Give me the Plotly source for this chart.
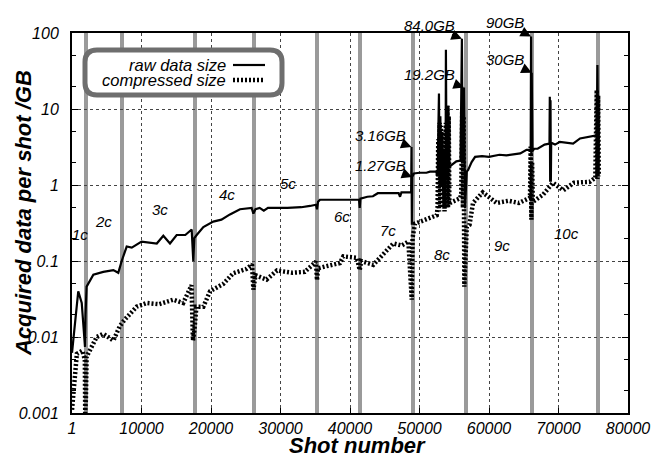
import numpy as np
import plotly.graph_objects as go

# ---------------- data ----------------
raw_shot = [1, 900, 1400, 1870, 1950, 2100, 3070, 4500, 5950, 6660, 7150, 7870, 8600, 10000,
            12200, 13140, 14100, 15060, 16300, 17220, 17450, 17600, 17940, 18900, 20330, 21500,
            22730, 24170, 25850, 26100, 26400, 27000, 27600, 28200, 31000, 33000, 34240, 35100,
            35250, 35400, 35680, 38000, 41300, 41400, 41500, 42500, 43300, 44000, 46000, 47000,
            47200, 47400, 48800, 48850, 48900, 48950, 49200, 50000, 51000, 51500, 52400,
            52600, 52800, 52900, 53000, 53100, 53300, 53400, 53600, 53750, 53800, 53900, 54000,
            54100, 54150, 54250, 54500, 54800, 55300, 55900, 56100, 56200, 56400, 56550, 56800,
            57000, 57500, 58000, 59000, 60000, 61500, 62500, 63500, 64500, 65400, 66000, 66050,
            66100, 66150, 66250, 66500, 67000, 68000, 68700, 68750, 68800, 68850, 68900, 68950,
            69500, 70200, 71000, 72100, 73100, 74500, 75300, 75500, 75600, 75700, 75800]
raw_size = [0.0062, 0.04, 0.028, 0.0074, 0.02, 0.046, 0.066, 0.072, 0.076, 0.07, 0.1, 0.155, 0.15, 0.18,
            0.17, 0.215, 0.17, 0.22, 0.22, 0.26, 0.1, 0.2, 0.22, 0.28, 0.33, 0.35,
            0.41, 0.48, 0.5, 0.42, 0.48, 0.5, 0.46, 0.5, 0.5, 0.51, 0.53, 0.55,
            0.48, 0.6, 0.64, 0.64, 0.64, 0.5, 0.66, 0.7, 0.71, 0.78, 0.78, 0.78,
            0.7, 0.8, 0.8, 3.16, 0.3, 1.27, 1.42, 1.45, 1.45, 1.5, 1.5,
            1.3, 16, 0.9, 8, 1.0, 5, 0.9, 3, 1.0, 60, 1.2, 8,
            1.4, 11, 1.7, 1.8, 1.9, 2.05, 2.1, 84, 2.0, 19.2, 0.5, 1.5,
            1.58, 2.0, 2.35, 2.4, 2.35, 2.5, 2.45, 2.55, 2.6, 2.9, 2.9, 90,
            2.5, 30, 2.8, 3.0, 3.0, 3.4, 3.5, 14.5, 1.1, 13, 1.1, 3.6,
            3.4, 3.7, 3.6, 3.5, 4.1, 4.3, 4.4, 4.5, 38, 4.5, 4.6]

comp_shot = [1, 300, 500, 700, 1500, 1850, 1900, 2000, 2100, 3550, 4500, 5950, 6900, 7600, 9300,
             10750, 12500, 14580, 16000, 17200, 17400, 17600, 17900, 18900, 19860, 21770, 23200,
             25130, 25900, 26100, 26400, 28000, 29500, 31700, 33500, 35100, 35250, 35400, 36500,
             38560, 39040, 41000, 41400, 41600, 43350, 44800, 46230, 47440, 48400, 48880, 49000,
             49350, 51040, 52480, 52600, 52700, 52800, 52900, 53000, 53100, 53200, 53300, 53400,
             53500, 53600, 53800, 53900, 54000, 54100, 54200, 54300, 54390, 55830, 56000, 56150,
             56250, 56350, 56450, 56800, 57200, 57700, 59100, 61100, 62800, 64300, 65900, 66000,
             66100, 66200, 66300, 67800, 69200, 70700, 72200, 74500, 75300, 75500, 75600, 75700,
             75800]
comp_size = [0.0011, 0.002, 0.004, 0.006, 0.0066, 0.005, 0.001, 0.0015, 0.0055, 0.01, 0.011, 0.009,
             0.014, 0.017, 0.025, 0.028, 0.027, 0.031, 0.028, 0.048, 0.009, 0.012, 0.025, 0.025,
             0.04, 0.05, 0.069, 0.079, 0.09, 0.042, 0.065, 0.057, 0.075, 0.07, 0.072, 0.098, 0.056,
             0.08, 0.085, 0.094, 0.115, 0.11, 0.076, 0.1, 0.089, 0.126, 0.17, 0.16, 0.18, 0.031,
             0.2, 0.31, 0.35, 0.4, 0.5, 4, 0.45, 6.6, 0.5, 6, 0.5, 5, 0.5,
             3, 0.45, 6.6, 0.5, 11, 0.5, 8, 0.55, 0.58, 0.67, 0.75, 10,
             0.5, 8, 0.046, 0.28, 0.3, 0.58, 0.8, 0.58, 0.62, 0.58, 0.68, 3.2,
             0.35, 2, 0.6, 0.75, 1.07, 0.85, 1.07, 1.1, 1.25, 17.8, 1.2, 15,
             1.3]

campaign_bounds = [2014, 7194, 17698, 26187, 35252, 41439, 49065, 56691, 66187, 75683]
campaign_names = ["1c", "2c", "3c", "4c", "5c", "6c", "7c", "8c", "9c", "10c"]
campaign_label_x = [1150, 4500, 12660, 22250, 31080, 38800, 45460, 53190, 61830, 71180]
campaign_label_y = [0.22, 0.33, 0.48, 0.74, 1.05, 0.39, 0.25, 0.12, 0.16, 0.23]

peak_labels = ["84.0GB", "90GB", "19.2GB", "30GB", "3.16GB", "1.27GB"]
peak_x = [56100, 66050, 56400, 66150, 48850, 48950]
peak_y = [84, 90, 19.2, 30, 3.16, 1.27]

x_tickvals = [1, 10000, 20000, 30000, 40000, 50000, 60000, 70000, 80000]
x_ticktext = ["1", "10000", "20000", "30000", "40000", "50000", "60000", "70000", "80000"]
y_tickvals = [0.001, 0.01, 0.1, 1, 10, 100]
y_ticktext = ["0.001", "0.01", "0.1", "1", "10", "100"]

# ---------------- figure ----------------
FONT = "Liberation Sans"
W, H = 653, 457
ML, MR, MT, MB = 72, 25, 33, 44
PW, PH = W - ML - MR, H - MT - MB

def px(xp):
    return (xp - ML) / PW

def py(yp):
    return (H - MB - yp) / PH

fig = go.Figure()

fig.add_trace(go.Scatter(x=comp_shot, y=comp_size, mode="lines", showlegend=False,
                         line=dict(color="black", width=4.5, dash="2px,2px")))
fig.add_trace(go.Scatter(x=raw_shot, y=raw_size, mode="lines", showlegend=False,
                         line=dict(color="black", width=2.2)))

shapes = []
for b in campaign_bounds:
    shapes.append(dict(type="line", xref="x", yref="paper", x0=b, x1=b, y0=0, y1=1,
                       line=dict(color="#9a9a9a", width=4), layer="between"))

# legend box (rounded)
x0, x1 = px(85), px(282)
y0, y1 = py(95), py(50)
rx, ry = 12 / PW, 12 / PH
path = (f"M {x0+rx},{y0} L {x1-rx},{y0} Q {x1},{y0} {x1},{y0+ry} "
        f"L {x1},{y1-ry} Q {x1},{y1} {x1-rx},{y1} L {x0+rx},{y1} "
        f"Q {x0},{y1} {x0},{y1-ry} L {x0},{y0+ry} Q {x0},{y0} {x0+rx},{y0} Z")
shapes.append(dict(type="path", xref="paper", yref="paper", path=path,
                   line=dict(color="#6e6e6e", width=5), fillcolor="white", layer="above"))
shapes.append(dict(type="line", xref="paper", yref="paper", x0=px(233), x1=px(265),
                   y0=py(65), y1=py(65), line=dict(color="black", width=2.2), layer="above"))
shapes.append(dict(type="line", xref="paper", yref="paper", x0=px(233), x1=px(265),
                   y0=py(80), y1=py(80), line=dict(color="black", width=4.5, dash="2px,2px"),
                   layer="above"))

annotations = []
fnt = dict(family=FONT, size=15, color="black", style="italic")
for name, lx, ly in zip(campaign_names, campaign_label_x, campaign_label_y):
    annotations.append(dict(x=lx, y=np.log10(ly), text=name, showarrow=False, font=fnt))

offsets = [(-32, -13), (-26, -13.5), (-34, -12.5), (-27, -13), (-31.5, -12), (-32, -12)]
for t, xv, yv, (ax, ay) in zip(peak_labels, peak_x, peak_y, offsets):
    annotations.append(dict(x=xv, y=np.log10(yv), text=t, showarrow=True, ax=ax, ay=ay,
                            xanchor="center", yanchor="middle", arrowhead=2, arrowsize=1.4,
                            arrowwidth=1.5, arrowcolor="black", standoff=0, borderpad=0,
                            font=fnt))

lfnt = dict(family=FONT, size=16.5, color="black", style="italic")
annotations.append(dict(xref="paper", yref="paper", x=px(228), y=py(65), text="raw data size",
                        showarrow=False, xanchor="right", yanchor="middle", font=lfnt))
annotations.append(dict(xref="paper", yref="paper", x=px(228), y=py(80), text="compressed size",
                        showarrow=False, xanchor="right", yanchor="middle", font=lfnt))

annotations.append(dict(xref="paper", yref="paper", x=px(357), y=py(445), text="Shot number",
                        showarrow=False, xanchor="center", yanchor="middle",
                        font=dict(family=FONT, size=22, color="black", weight="bold",
                                  style="italic")))
annotations.append(dict(xref="paper", yref="paper", x=px(23), y=py(213),
                        text="Acquired data per shot /GB", textangle=-90,
                        showarrow=False, xanchor="center", yanchor="middle",
                        font=dict(family=FONT, size=22, color="black", weight="bold",
                                  style="italic")))

tickfont = dict(family=FONT, size=16, color="black", style="italic")

fig.update_layout(
    width=W, height=H,
    margin=dict(l=ML, r=MR, t=MT, b=MB),
    paper_bgcolor="white", plot_bgcolor="white",
    shapes=shapes, annotations=annotations,
    xaxis=dict(range=[0, 80000], tickmode="array", tickvals=x_tickvals, ticktext=x_ticktext,
               tickfont=tickfont, showgrid=True, gridcolor="#444", griddash="3px,3px",
               gridwidth=0.8, showline=True, linecolor="black", linewidth=2, mirror=True,
               ticks="inside", ticklen=5, tickcolor="black", automargin=False, zeroline=False),
    yaxis=dict(type="log", range=[-3, 2], tickmode="array", tickvals=y_tickvals,
               ticktext=y_ticktext, tickfont=tickfont, showgrid=True, gridcolor="#444",
               griddash="3px,3px", gridwidth=0.8, showline=True, linecolor="black", linewidth=2,
               mirror="ticks", ticks="inside", ticklen=6, tickcolor="black",
               ticklabelstandoff=8,
               minor=dict(tickvals=[0.002, 0.005, 0.02, 0.05, 0.2, 0.5, 2, 5, 20, 50],
                          ticks="inside", ticklen=4, tickcolor="black", showgrid=False),
               automargin=False, zeroline=False),
)

fig.write_html("out.html", config={"displayModeBar": False},
               post_script="document.body.style.margin='0';document.body.style.padding='0';"
                           "document.documentElement.style.margin='0';")
